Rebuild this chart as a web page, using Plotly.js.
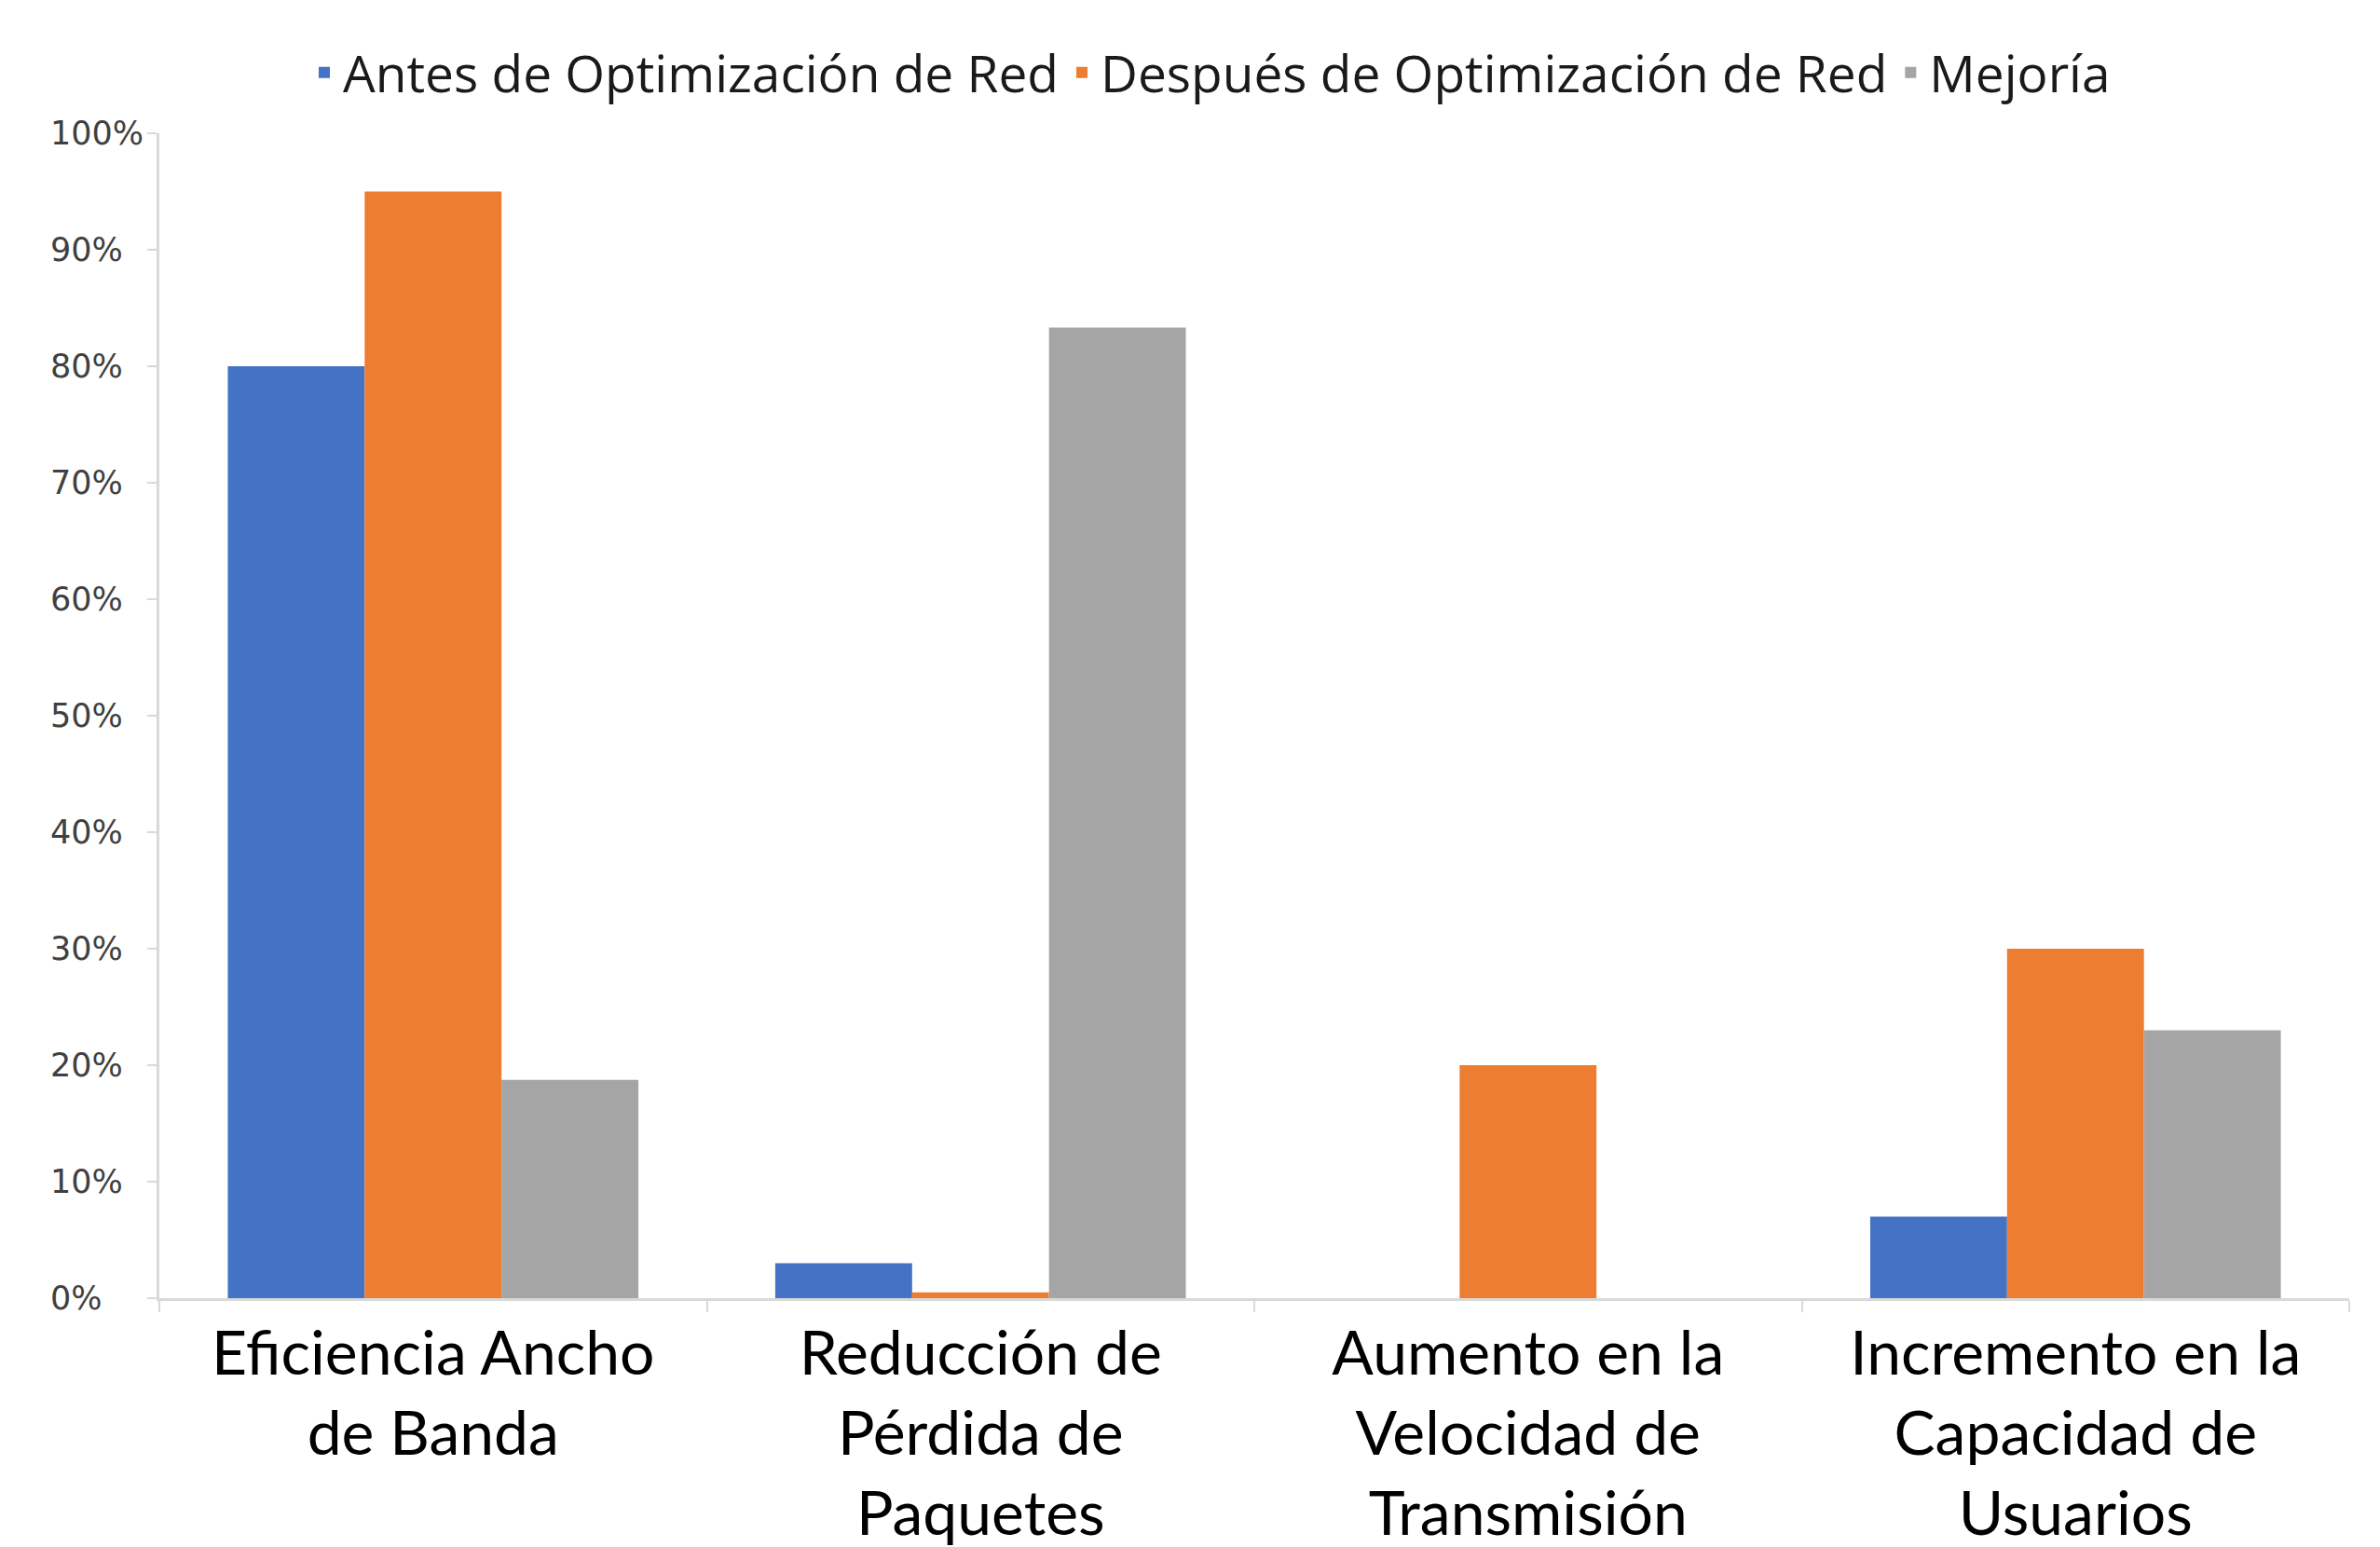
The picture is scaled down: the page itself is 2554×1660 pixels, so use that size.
<!DOCTYPE html>
<html>
<head>
<meta charset="utf-8">
<script src="https://cdn.plot.ly/plotly-3.0.1.min.js"></script>
<style>html,body{margin:0;padding:0;background:#fff;}#chart{width:2554px;height:1660px;}</style>
</head>
<body>
<div id="chart"></div>
<script>
const categories = [
  "Eficiencia Ancho<br>de Banda",
  "Reducción de<br>Pérdida de<br>Paquetes",
  "Aumento en la<br>Velocidad de<br>Transmisión",
  "Incremento en la<br>Capacidad de<br>Usuarios"
];
const seriesNames = ["Antes de Optimización de Red", "Después de Optimización de Red", "Mejoría"];
const antes = [0.80, 0.03, 0.0, 0.07];
const despues = [0.95, 0.005, 0.20, 0.30];
const mejoria = [0.1875, 0.8333, 0.0, 0.23];
const yTickVals = [0, 0.1, 0.2, 0.3, 0.4, 0.5, 0.6, 0.7, 0.8, 0.9, 1.0];
const yTickText = ["0%", "10%", "20%", "30%", "40%", "50%", "60%", "70%", "80%", "90%", "100%"];
const colors = ["#4472C4", "#ED7D31", "#A5A5A5"];

const seriesValues = [antes, despues, mejoria];
const traces = seriesValues.map((vals, i) => ({
  type: "bar",
  name: seriesNames[i],
  x: categories,
  y: vals,
  marker: {color: colors[i], line: {width: 0}},
  hoverinfo: "skip"
}));

// y tick labels are left-aligned in the reference: place them as annotations on the y scale
const yLabelAnnotations = yTickVals.map((v, i) => ({
  xref: "paper", yref: "y",
  x: -0.0506, y: v,
  xanchor: "left", yanchor: "middle",
  text: yTickText[i],
  showarrow: false,
  font: {family: "'DejaVu Sans', Verdana, sans-serif", size: 35, color: "#404040"}
}));

const layout = {
  width: 2554,
  height: 1660,
  margin: {l: 171, r: 33, t: 143, b: 267, pad: 0},
  paper_bgcolor: "#ffffff",
  plot_bgcolor: "#ffffff",
  barmode: "group",
  bargap: 0.25,
  bargroupgap: 0,
  showlegend: true,
  legend: {
    orientation: "h",
    x: 0.48, xanchor: "center",
    y: 1.052, yanchor: "middle",
    font: {family: "'Open Sans', Lato, sans-serif", size: 55, color: "#1a1a1a"},
    itemwidth: 30,
    tracegroupgap: 0,
    bgcolor: "rgba(0,0,0,0)"
  },
  annotations: yLabelAnnotations,
  xaxis: {
    type: "category",
    showgrid: false,
    zeroline: false,
    showline: true,
    linecolor: "#D9D9D9",
    linewidth: 3,
    ticks: "outside",
    tickson: "boundaries",
    ticklen: 12,
    tickwidth: 2,
    tickcolor: "#D9D9D9",
    tickfont: {family: "Lato, 'Open Sans', sans-serif", size: 66, color: "#000000"},
    ticklabelstandoff: 0,
    automargin: false,
    fixedrange: true
  },
  yaxis: {
    range: [0, 1],
    tickvals: yTickVals,
    showticklabels: false,
    showgrid: false,
    zeroline: false,
    showline: true,
    linecolor: "#D9D9D9",
    linewidth: 3,
    ticks: "outside",
    ticklen: 10,
    tickwidth: 2,
    tickcolor: "#D9D9D9",
    automargin: false,
    fixedrange: true
  }
};

Plotly.newPlot("chart", traces, layout, {staticPlot: true, displayModeBar: false});
</script>
</body>
</html>
